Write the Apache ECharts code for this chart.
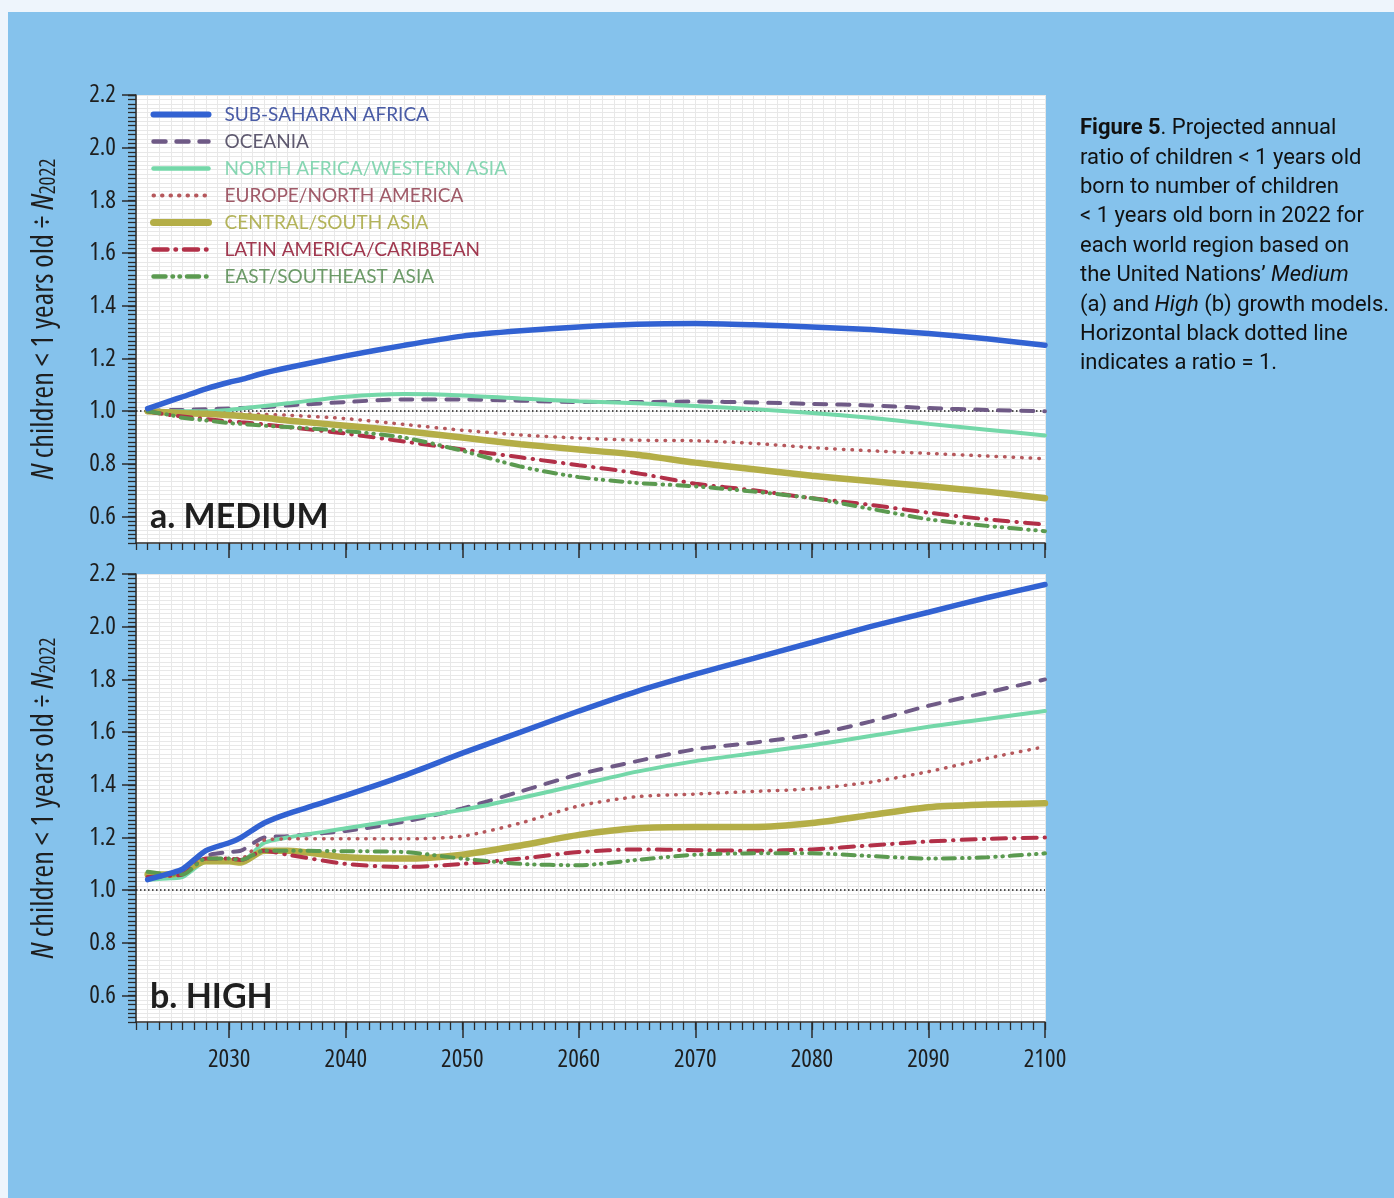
<!DOCTYPE html>
<html>
<head>
<meta charset="utf-8">
<title>Projected annual ratio of children under 1</title>
<script src="https://cdn.jsdelivr.net/npm/echarts@6/dist/echarts.min.js"></script>
<style>
  html, body { margin: 0; padding: 0; background: #eef5fc; }
  #chart { width: 1394px; height: 1198px; }
</style>
</head>
<body>
<div id="chart"></div>
<script>
// Projection years (ratio relative to births in 2022)
const years = [2023, 2025, 2026, 2028, 2030, 2031, 2033, 2035, 2040, 2045, 2050,
               2055, 2060, 2065, 2070, 2075, 2080, 2085, 2090, 2095, 2100];
const xTickYears = [2030, 2040, 2050, 2060, 2070, 2080, 2090, 2100];
const yTickValues = [0.6, 0.8, 1.0, 1.2, 1.4, 1.6, 1.8, 2.0, 2.2];

const regions = [
  'SUB-SAHARAN AFRICA', 'OCEANIA', 'NORTH AFRICA/WESTERN ASIA', 'EUROPE/NORTH AMERICA',
  'CENTRAL/SOUTH ASIA', 'LATIN AMERICA/CARIBBEAN', 'EAST/SOUTHEAST ASIA'
];

// a. Medium growth model
const mediumSubSaharan   = [1.01, 1.04, 1.055, 1.085, 1.11, 1.12, 1.145, 1.165, 1.21, 1.25, 1.285, 1.305, 1.32, 1.33, 1.333, 1.328, 1.32, 1.31, 1.295, 1.275, 1.25];
const mediumOceania      = [1.0, 1.005, 1.005, 1.008, 1.01, 1.012, 1.015, 1.022, 1.035, 1.045, 1.045, 1.04, 1.035, 1.035, 1.037, 1.033, 1.028, 1.022, 1.012, 1.005, 1.0];
const mediumNorthAfrica  = [1.0, 1.0, 1.0, 1.0, 1.005, 1.01, 1.02, 1.03, 1.055, 1.065, 1.06, 1.048, 1.038, 1.03, 1.02, 1.008, 0.993, 0.975, 0.952, 0.93, 0.908];
const mediumEurope       = [1.0, 0.998, 0.997, 0.995, 0.992, 0.99, 0.988, 0.985, 0.972, 0.95, 0.928, 0.91, 0.898, 0.89, 0.888, 0.878, 0.862, 0.85, 0.84, 0.83, 0.82];
const mediumCentralSouth = [1.0, 0.995, 0.992, 0.99, 0.985, 0.982, 0.975, 0.965, 0.945, 0.925, 0.9, 0.875, 0.855, 0.835, 0.805, 0.78, 0.755, 0.735, 0.715, 0.695, 0.67];
const mediumLatinAmerica = [1.0, 0.985, 0.98, 0.97, 0.962, 0.958, 0.95, 0.94, 0.915, 0.885, 0.855, 0.825, 0.795, 0.765, 0.725, 0.7, 0.67, 0.645, 0.615, 0.59, 0.57];
const mediumEastAsia     = [1.0, 0.985, 0.975, 0.965, 0.955, 0.952, 0.945, 0.94, 0.925, 0.9, 0.85, 0.79, 0.75, 0.728, 0.715, 0.695, 0.67, 0.63, 0.59, 0.565, 0.545];

// b. High growth model
const highSubSaharan   = [1.04, 1.065, 1.08, 1.15, 1.18, 1.2, 1.255, 1.29, 1.36, 1.435, 1.52, 1.6, 1.68, 1.755, 1.82, 1.88, 1.94, 2.0, 2.055, 2.11, 2.16];
const highOceania      = [1.05, 1.055, 1.065, 1.13, 1.145, 1.15, 1.2, 1.205, 1.225, 1.26, 1.31, 1.375, 1.44, 1.49, 1.535, 1.56, 1.59, 1.64, 1.7, 1.75, 1.8];
const highNorthAfrica  = [1.04, 1.045, 1.05, 1.11, 1.115, 1.11, 1.18, 1.2, 1.235, 1.27, 1.305, 1.35, 1.4, 1.45, 1.49, 1.52, 1.55, 1.585, 1.62, 1.65, 1.68];
const highEurope       = [1.05, 1.055, 1.07, 1.12, 1.12, 1.12, 1.19, 1.195, 1.195, 1.195, 1.205, 1.255, 1.32, 1.355, 1.365, 1.375, 1.385, 1.41, 1.45, 1.5, 1.545];
const highCentralSouth = [1.06, 1.06, 1.07, 1.11, 1.11, 1.105, 1.15, 1.15, 1.125, 1.12, 1.135, 1.17, 1.21, 1.235, 1.24, 1.24, 1.255, 1.285, 1.315, 1.325, 1.33];
const highLatinAmerica = [1.05, 1.055, 1.06, 1.12, 1.12, 1.115, 1.15, 1.135, 1.1, 1.088, 1.1, 1.12, 1.145, 1.155, 1.152, 1.15, 1.155, 1.17, 1.185, 1.195, 1.2];
const highEastAsia     = [1.07, 1.06, 1.06, 1.12, 1.12, 1.115, 1.15, 1.15, 1.148, 1.145, 1.12, 1.1, 1.095, 1.115, 1.135, 1.14, 1.14, 1.13, 1.12, 1.125, 1.14];

const mediumSeries = [mediumSubSaharan, mediumOceania, mediumNorthAfrica, mediumEurope,
                      mediumCentralSouth, mediumLatinAmerica, mediumEastAsia];
const highSeries = [highSubSaharan, highOceania, highNorthAfrica, highEurope,
                    highCentralSouth, highLatinAmerica, highEastAsia];

// line look per region: colour, width, dash pattern (round caps), legend text colour
const lineStyles = [
  { color: '#3262d2', width: 5.5, type: 'solid',                    text: '#4a5ca6' },
  { color: '#6f5a86', width: 4,   type: [12, 11],                   text: '#5f5a70' },
  { color: '#74d8a9', width: 4,   type: 'solid',                    text: '#86d6b2' },
  { color: '#b6585c', width: 3.5, type: [0.5, 8],                   text: '#a05a68' },
  { color: '#b4ae47', width: 6.5, type: 'solid',                    text: '#b3b35a' },
  { color: '#b23048', width: 4,   type: [14, 8, 0.5, 8],            text: '#a0384f' },
  { color: '#5b9a50', width: 4,   type: [12, 7, 0.5, 6.5, 0.5, 7],  text: '#6c9a68' }
];

// condensed cut of the variable Open Sans for the axis text
const AX_FONT = '"Open Sans", Roboto, sans-serif';
const AX_STRETCH = 'condensed';
const AX_COLOR = '#2a2a2a';
const GRID_LINE = '#e8e8e8';

const grids = [
  { left: 136, top: 95, width: 909, height: 448, show: true, backgroundColor: '#ffffff', borderWidth: 0 },
  { left: 136, top: 574, width: 909, height: 448, show: true, backgroundColor: '#ffffff', borderWidth: 0 }
];

function mainX(gridIndex, showLabels, majorLen) {
  return {
    type: 'value', gridIndex, position: 'bottom', min: 2022, max: 2100,
    axisLine: { show: true, lineStyle: { color: AX_COLOR, width: 1.5 } },
    axisTick: { show: true, customValues: xTickYears, length: majorLen, lineStyle: { color: AX_COLOR, width: 1.5 } },
    axisLabel: { show: showLabels, customValues: xTickYears, margin: 25, fontSize: 25,
                 color: '#1e1e1e', fontFamily: AX_FONT, fontWeight: AX_STRETCH, formatter: v => String(v) },
    splitLine: { show: false }
  };
}
function minorX(gridIndex, minorLen) {
  return {
    type: 'value', gridIndex, position: 'bottom', min: 2022, max: 2100, interval: 1,
    axisLine: { show: false },
    axisTick: { show: true, length: minorLen, lineStyle: { color: AX_COLOR, width: 1.3 } },
    axisLabel: { show: false },
    splitLine: { show: true, lineStyle: { color: GRID_LINE, width: 1 } }
  };
}
const yName = '{i|N}{t| children < 1 years old ÷ }{i|N}{s|2022}';
function mainY(gridIndex) {
  return {
    type: 'value', gridIndex, position: 'left', min: 0.5, max: 2.2,
    axisLine: { show: true, lineStyle: { color: AX_COLOR, width: 1.5 } },
    axisTick: { show: true, customValues: yTickValues, length: 14, lineStyle: { color: AX_COLOR, width: 1.5 } },
    axisLabel: { show: true, customValues: yTickValues, margin: 20, fontSize: 25, color: '#1e1e1e',
                 fontFamily: AX_FONT, fontWeight: AX_STRETCH, formatter: v => v.toFixed(1) },
    splitLine: { show: false },
    name: yName, nameLocation: 'middle', nameRotate: 90, nameGap: 76,
    nameTextStyle: {
      color: '#1e1e1e', fontFamily: AX_FONT,
      rich: {
        i: { fontStyle: 'italic', fontWeight: AX_STRETCH, fontSize: 30.5, fontFamily: AX_FONT, color: '#1e1e1e', lineHeight: 32, verticalAlign: 'middle' },
        t: { fontWeight: AX_STRETCH, fontSize: 30.5, fontFamily: AX_FONT, color: '#1e1e1e', lineHeight: 32, verticalAlign: 'middle' },
        s: { fontWeight: AX_STRETCH, fontSize: 21, fontFamily: AX_FONT, color: '#1e1e1e', lineHeight: 12, verticalAlign: 'bottom' }
      }
    }
  };
}
function minorY(gridIndex) {
  return {
    type: 'value', gridIndex, position: 'left', min: 0.5, max: 2.2, interval: 1 / 60,
    axisLine: { show: false },
    axisTick: { show: true, length: 8, lineStyle: { color: AX_COLOR, width: 1.3 } },
    axisLabel: { show: false },
    splitLine: { show: true, lineStyle: { color: GRID_LINE, width: 1 } }
  };
}

function buildSeries(valuesList, axisIndex) {
  return valuesList.map((vals, k) => {
    const st = lineStyles[k];
    const s = {
      name: regions[k], type: 'line', xAxisIndex: axisIndex, yAxisIndex: axisIndex,
      data: years.map((yr, i) => [yr, vals[i]]),
      symbol: 'none', smooth: 0.25, z: k === 0 ? 10 : 5,
      lineStyle: { color: st.color, width: st.width, type: st.type, cap: 'round' },
      itemStyle: { color: st.color },
      emphasis: { disabled: true }
    };
    if (k === valuesList.length - 1) {
      s.markLine = {
        silent: true, symbol: 'none', label: { show: false },
        lineStyle: { color: '#1a1a1a', type: [1.5, 2.5], width: 1.6 },
        data: [{ yAxis: 1 }]
      };
    }
    return s;
  });
}

const captionLines = [
  '{b|Figure 5}. Projected annual',
  'ratio of children < 1 years old',
  'born to number of children',
  '< 1 years old born in 2022 for',
  'each world region based on',
  'the United Nations’ {it|Medium}',
  '(a) and {it|High} (b) growth models.',
  'Horizontal black dotted line',
  'indicates a ratio = 1.'
];
const CAP_FONT = 'Roboto, "Noto Sans", sans-serif';
const CAP_SIZE = 22;

function draw() {
  const chart = echarts.init(document.getElementById('chart'), null, { renderer: 'canvas' });
  chart.setOption({
    backgroundColor: '#eef5fc',
    animation: false,
    grid: grids,
    xAxis: [mainX(0, false, 15), minorX(0, 7), mainX(1, true, 16), minorX(1, 8)],
    yAxis: [mainY(0), minorY(0), mainY(1), minorY(1)],
    legend: {
      orient: 'vertical', left: 150, top: 105, padding: 0,
      itemWidth: 55, itemHeight: 14, itemGap: 8,
      itemStyle: { opacity: 0 },
      textStyle: { fontFamily: 'Lato, "Open Sans", sans-serif', fontSize: 19, lineHeight: 18, padding: [0, 0, 0, 11] },
      data: regions.map((r, k) => ({
        name: r,
        textStyle: { color: lineStyles[k].text },
        lineStyle: { width: Math.max(lineStyles[k].width, 3.5) + 0.5, cap: 'round' }
      })),
      selectedMode: false
    },
    series: [...buildSeries(mediumSeries, 0), ...buildSeries(highSeries, 2)],
    graphic: [
      { type: 'rect', z: -10, silent: true, shape: { x: 8, y: 12, width: 1386, height: 1186 },
        style: { fill: '#85c2ec' } },
      { type: 'text', left: 150, top: 500, z: 20, silent: true,
        style: { text: 'a. MEDIUM', fontFamily: 'Lato, "Open Sans", sans-serif', fontWeight: 'bold', fontSize: 34, fill: '#1f1f1f' } },
      { type: 'text', left: 150, top: 980, z: 20, silent: true,
        style: { text: 'b. HIGH', fontFamily: 'Lato, "Open Sans", sans-serif', fontWeight: 'bold', fontSize: 34, fill: '#1f1f1f' } },
      { type: 'text', left: 1080, top: 114, z: 20, silent: true,
        style: {
          text: captionLines.join('\n'),
          fontFamily: CAP_FONT, fontSize: CAP_SIZE, lineHeight: 29.4, fill: '#111',
          rich: {
            b: { fontFamily: CAP_FONT, fontSize: CAP_SIZE, fontWeight: 'bold', lineHeight: 29.4, fill: '#111' },
            it: { fontFamily: CAP_FONT, fontSize: CAP_SIZE, fontStyle: 'italic', lineHeight: 29.4, fill: '#111' }
          }
        } }
    ]
  });
}

Promise.all([
  document.fonts.load('condensed 25px "Open Sans"'),
  document.fonts.load('italic condensed 25px "Open Sans"'),
  document.fonts.load('19px Lato'),
  document.fonts.load('bold 34px Lato'),
  document.fonts.load('22px Roboto')
]).then(draw, draw);
</script>
</body>
</html>
